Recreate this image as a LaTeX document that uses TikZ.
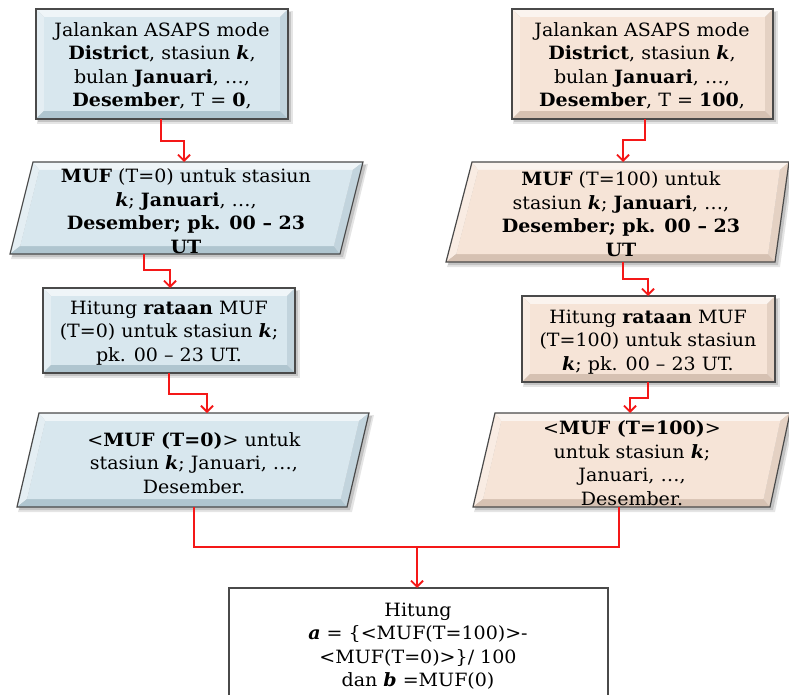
\documentclass[tikz,border=0pt]{standalone}
\usepackage{fontspec}
\setmainfont{DejaVu Serif}[FakeStretch=1.04]
\usetikzlibrary{arrows.meta}
\definecolor{blueB}{HTML}{D8E7EE}
\definecolor{blueD}{HTML}{AFC5CF}
\definecolor{peachB}{HTML}{F6E4D7}
\definecolor{peachD}{HTML}{D6C1B2}
\definecolor{edgeC}{HTML}{4A4A4A}
\definecolor{lineR}{HTML}{F41818}
\newcommand{\bvd}{8}
% #1 TLx #2 TRx #3 top y #4 BLx #5 BRx #6 bottom y #7 base colour #8 dark colour
\newcommand{\bvshape}[8]{%
 \pgfmathsetmacro{\mL}{(#1-#4)/(#6-#3)}%
 \pgfmathsetmacro{\mR}{(#2-#5)/(#6-#3)}%
 \pgfmathsetmacro{\kL}{\bvd*sqrt(1+\mL*\mL)}%
 \pgfmathsetmacro{\kR}{\bvd*sqrt(1+\mR*\mR)}%
 \pgfmathsetmacro{\iTL}{#1-\mL*\bvd+\kL}%
 \pgfmathsetmacro{\iBL}{#4+\mL*\bvd+\kL}%
 \pgfmathsetmacro{\iTR}{#2-\mR*\bvd-\kR}%
 \pgfmathsetmacro{\iBR}{#5+\mR*\bvd-\kR}%
 \pgfmathsetmacro{\iT}{#3+\bvd}%
 \pgfmathsetmacro{\iB}{#6-\bvd}%
 \fill[black,opacity=0.10] (#1+1,#3+2) -- (#2+5,#3+2) -- (#5+5,#6+5) -- (#4+1,#6+5) -- cycle;
 \fill[black,opacity=0.14] (#1+2,#3+3) -- (#2+3,#3+3) -- (#5+3,#6+3) -- (#4+2,#6+3) -- cycle;
 \fill[white!60!#7] (#1,#3) -- (#2,#3) -- (\iTR,\iT) -- (\iTL,\iT) -- cycle;
 \fill[white!30!#7] (#1,#3) -- (\iTL,\iT) -- (\iBL,\iB) -- (#4,#6) -- cycle;
 \fill[#8] (#4,#6) -- (\iBL,\iB) -- (\iBR,\iB) -- (#5,#6) -- cycle;
 \fill[#8!55!#7] (#2,#3) -- (#5,#6) -- (\iBR,\iB) -- (\iTR,\iT) -- cycle;
 \fill[#7] (\iTL,\iT) -- (\iTR,\iT) -- (\iBR,\iB) -- (\iBL,\iB) -- cycle;
 \draw[edgeC,line width=1.2pt,line join=miter] (#1,#3) -- (#2,#3) -- (#5,#6) -- (#4,#6) -- cycle;
}
\newcommand{\bk}{\textbf{\textit{k}}}
\begin{document}
\begin{tikzpicture}[x=1pt,y=-1pt,
  txt/.style={align=center,inner sep=0pt,text=black,font=\fontsize{18.3}{23.5}\selectfont},
  conn/.style={draw=lineR,line width=2pt,-{Straight Barb[length=6pt,width=12pt,line width=1.8pt]}},
  link/.style={draw=lineR,line width=2pt}]
\useasboundingbox (0,0) rectangle (789,695);
\fill[white] (0,0) rectangle (789,695);

% left column shapes
\bvshape{36}{288}{9}{36}{288}{119}{blueB}{blueD}
\bvshape{33}{363}{162}{10}{340}{254}{blueB}{blueD}
\bvshape{43}{295}{288}{43}{295}{373}{blueB}{blueD}
\bvshape{39}{369}{413}{17}{347}{507}{blueB}{blueD}
% right column shapes
\bvshape{512}{773}{9}{512}{773}{119}{peachB}{peachD}
\bvshape{472}{789}{162}{446}{775}{262}{peachB}{peachD}
\bvshape{522}{775}{296}{522}{775}{382}{peachB}{peachD}
\bvshape{495}{790}{413}{473}{770}{507}{peachB}{peachD}
% bottom box
\draw[edgeC,line width=1.2pt,fill=white] (229,588) rectangle (608,702);

% texts
\node[txt] (L1) at (162,66) {Jalankan ASAPS mode\\ \textbf{District}, stasiun \bk,\\ bulan \textbf{Januari}, \ldots,\\ \textbf{Desember}, T = \textbf{0},};
\node[txt] (L2) at (186,211) {\textbf{MUF} (T=0) untuk stasiun\\ \bk; \textbf{Januari}, \ldots,\\ \textbf{Desember; pk. 00 -- 23}\\ \textbf{UT}};
\node[txt] (L3) at (169,333) {Hitung \textbf{rataan} MUF\\ (T=0) untuk stasiun \bk;\\ pk. 00 -- 23 UT.};
\node[txt] (L4) at (194,463) {<\textbf{MUF (T=0)}> untuk\\ stasiun \bk; Januari, \ldots,\\ Desember.};
\node[txt] (R1) at (642,66) {Jalankan ASAPS mode\\ \textbf{District}, stasiun \bk,\\ bulan \textbf{Januari}, \ldots,\\ \textbf{Desember}, T = \textbf{100},};
\node[txt] (R2) at (621,214) {\textbf{MUF} (T=100) untuk\\ stasiun \bk; \textbf{Januari}, \ldots,\\ \textbf{Desember; pk. 00 -- 23}\\ \textbf{UT}};
\node[txt] (R3) at (648,342) {Hitung \textbf{rataan} MUF\\ (T=100) untuk stasiun\\ \bk; pk. 00 -- 23 UT.};
\node[txt] (R4) at (632,463) {<\textbf{MUF (T=100)}>\\ untuk stasiun \bk;\\ Januari, \ldots,\\ Desember.};
\node[txt] (B) at (418,646) {Hitung\\ \textbf{\textit{a}} = \{<MUF(T=100)>-\\ <MUF(T=0)>\}/ 100\\ dan \textbf{\textit{b}} =MUF(0)};

% connector end points
\coordinate (L1b) at (161,119);
\coordinate (L2t) at (184,162);
\coordinate (L2b) at (144,254);
\coordinate (L3t) at (170,288);
\coordinate (L3b) at (169,373);
\coordinate (L4t) at (207,413);
\coordinate (L4b) at (194,507);
\coordinate (R1b) at (645,119);
\coordinate (R2t) at (623,162);
\coordinate (R2b) at (623,262);
\coordinate (R3t) at (648,296);
\coordinate (R3b) at (648,382);
\coordinate (R4t) at (630,413);
\coordinate (R4b) at (619,507);
\coordinate (M) at (417,547);
\coordinate (Bt) at (417,588);

\draw[conn] (L1b) -- ++(0,22) -| (L2t);
\draw[conn] (L2b) -- ++(0,16) -| (L3t);
\draw[conn] (L3b) -- ++(0,21) -| (L4t);
\draw[conn] (R1b) -- ++(0,21) -| (R2t);
\draw[conn] (R2b) -- ++(0,17) -| (R3t);
\draw[conn] (R3b) -- ++(0,16) -| (R4t);
\draw[link] (L4b) -- ++(0,40) -| (R4b);
\draw[conn] (M) -- (Bt);
\end{tikzpicture}
\end{document}
